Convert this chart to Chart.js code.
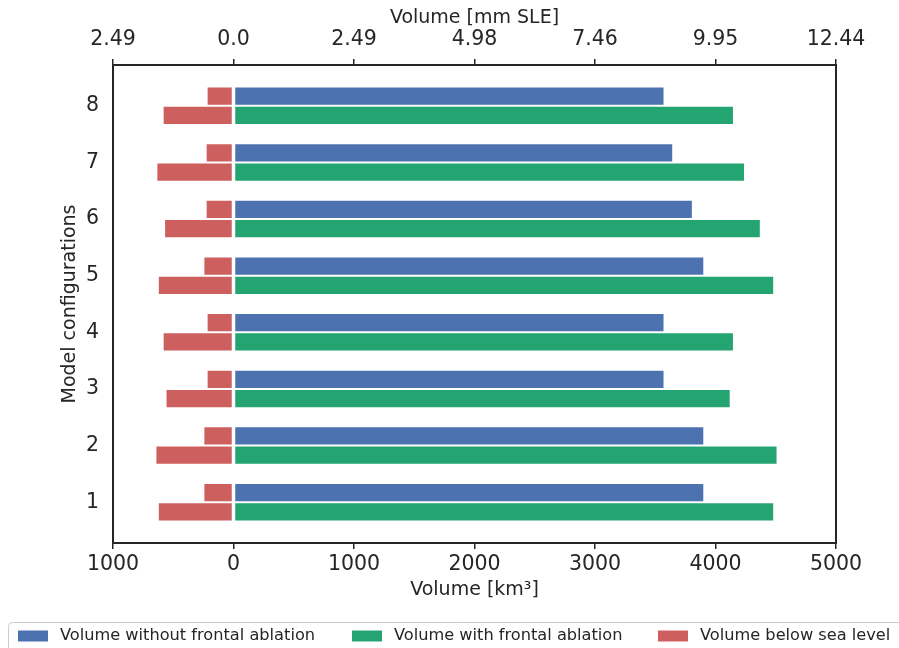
<!DOCTYPE html>
<html>
<head>
<meta charset="utf-8">
<script src="https://cdn.jsdelivr.net/npm/chart.js@4.4.0/dist/chart.umd.min.js"></script>
<style>
  html, body { margin: 0; padding: 0; background: #ffffff; }
  .chart-container { width: 899px; height: 648px; position: relative; }
</style>
</head>
<body>
<div class="chart-container"><canvas id="myChart"></canvas></div>
<script>
// Model configurations (1 at the bottom, 8 at the top)
const configs = [1, 2, 3, 4, 5, 6, 7, 8];

// Volumes in km3
const volNoFrontal = [3907, 3907, 3577, 3577, 3907, 3812, 3649, 3577];
const volFrontal   = [4487, 4515, 4126, 4153, 4487, 4376, 4245, 4153];
const belowSeaNoFrontal = [-250, -250, -223, -223, -250, -231, -231, -223];
const belowSeaFrontal   = [-628, -648, -564, -588, -628, -576, -640, -588];

// Tick labels
const bottomTickLabels = ['1000', '0', '1000', '2000', '3000', '4000', '5000'];
const topTickLabels = ['2.49', '0.0', '2.49', '4.98', '7.46', '9.95', '12.44'];

const textColor = '#262626';
const fontFamily = "'DejaVu Sans', sans-serif";

function points(values) {
    return values.map((v, i) => ({ x: v, y: configs[i] }));
}

// Draws the frame round the plot area
const framePlugin = {
    id: 'frame',
    afterDraw(chart) {
        const { ctx, chartArea } = chart;
        ctx.save();
        ctx.strokeStyle = textColor;
        ctx.lineWidth = 2;
        ctx.strokeRect(chartArea.left, chartArea.top,
            chartArea.right - chartArea.left, chartArea.bottom - chartArea.top);
        ctx.restore();
    }
};

// Legend below the chart, in a light box
const legendPlugin = {
    id: 'boxLegend',
    afterDraw(chart) {
        const ctx = chart.ctx;
        const items = chart.data.datasets.filter(d => !d.hideInLegend);
        const boxX = [18, 352, 658];
        const rowY = 636;
        ctx.save();
        ctx.strokeStyle = '#cccccc';
        ctx.lineWidth = 1;
        ctx.beginPath();
        ctx.roundRect(8.5, 622.5, 905, 40, 4);
        ctx.stroke();
        ctx.font = '16.2px ' + fontFamily;
        ctx.textBaseline = 'middle';
        items.forEach((d, i) => {
            ctx.fillStyle = d.backgroundColor;
            ctx.fillRect(boxX[i], rowY - 5.5, 30, 11);
            ctx.fillStyle = textColor;
            ctx.fillText(d.label, boxX[i] + 42, rowY);
        });
        ctx.restore();
    }
};

function createChart() {
    const ctx = document.getElementById('myChart').getContext('2d');
    const barStyle = {
        borderColor: 'rgba(255, 255, 255, 0.85)',
        borderWidth: 1,
        borderSkipped: false,
        categoryPercentage: 0.68,
        barPercentage: 1.0
    };

    const tickGrid = {
        display: true,
        drawOnChartArea: false,
        drawTicks: true,
        tickLength: 6,
        lineWidth: 1.5,
        color: textColor
    };

    return new Chart(ctx, {
        type: 'bar',
        data: {
            datasets: [
                {
                    label: 'Volume without frontal ablation',
                    data: points(volNoFrontal),
                    backgroundColor: '#4C72B0',
                    stack: 'a',
                    ...barStyle
                },
                {
                    label: 'Volume with frontal ablation',
                    data: points(volFrontal),
                    backgroundColor: '#24A470',
                    stack: 'b',
                    ...barStyle
                },
                {
                    label: 'Volume below sea level',
                    data: points(belowSeaNoFrontal),
                    backgroundColor: '#CE5F5F',
                    stack: 'a',
                    ...barStyle
                },
                {
                    label: 'Volume below sea level',
                    data: points(belowSeaFrontal),
                    backgroundColor: '#CE5F5F',
                    stack: 'b',
                    hideInLegend: true,
                    ...barStyle
                }
            ]
        },
        options: {
            indexAxis: 'y',
            responsive: true,
            maintainAspectRatio: false,
            animation: false,
            layout: { padding: { left: 0, right: 63, top: 0, bottom: 47 } },
            plugins: {
                legend: { display: false },
                tooltip: { enabled: false }
            },
            scales: {
                x: {
                    type: 'linear',
                    position: 'bottom',
                    min: -1000,
                    max: 5000,
                    grid: tickGrid,
                    border: { display: false },
                    ticks: {
                        stepSize: 1000,
                        padding: 3,
                        color: textColor,
                        font: { family: fontFamily, size: 20.5 },
                        callback: (value, index) => bottomTickLabels[index]
                    },
                    title: {
                        display: true,
                        text: 'Volume [km³]',
                        color: textColor,
                        font: { family: fontFamily, size: 19 },
                        padding: { top: 0, bottom: 0 }
                    },
                    afterFit: (axis) => { axis.height = 58; }
                },
                x2: {
                    type: 'linear',
                    position: 'top',
                    display: true,
                    min: -1000,
                    max: 5000,
                    grid: tickGrid,
                    border: { display: false },
                    ticks: {
                        stepSize: 1000,
                        padding: 7,
                        color: textColor,
                        font: { family: fontFamily, size: 20.5 },
                        callback: (value, index) => topTickLabels[index]
                    },
                    title: {
                        display: true,
                        text: 'Volume [mm SLE]',
                        color: textColor,
                        font: { family: fontFamily, size: 19 },
                        padding: { top: 6.6, bottom: 0 }
                    },
                    afterFit: (axis) => { axis.height = 65; }
                },
                y: {
                    type: 'linear',
                    min: 0.28,
                    max: 8.72,
                    offset: false,
                    grid: { display: false, drawTicks: false, offset: false },
                    border: { display: false },
                    afterBuildTicks: (axis) => {
                        axis.ticks = configs.map(c => ({ value: c }));
                    },
                    ticks: {
                        padding: 14,
                        color: textColor,
                        font: { family: fontFamily, size: 20.5 },
                        callback: (value) => String(value)
                    },
                    title: {
                        display: true,
                        text: 'Model configurations',
                        color: textColor,
                        font: { family: fontFamily, size: 19 },
                        padding: { top: 58.6, bottom: 0 }
                    },
                    afterFit: (axis) => { axis.width = 113; }
                }
            }
        },
        plugins: [framePlugin, legendPlugin]
    });
}

document.addEventListener('DOMContentLoaded', createChart);
</script>
</body>
</html>
